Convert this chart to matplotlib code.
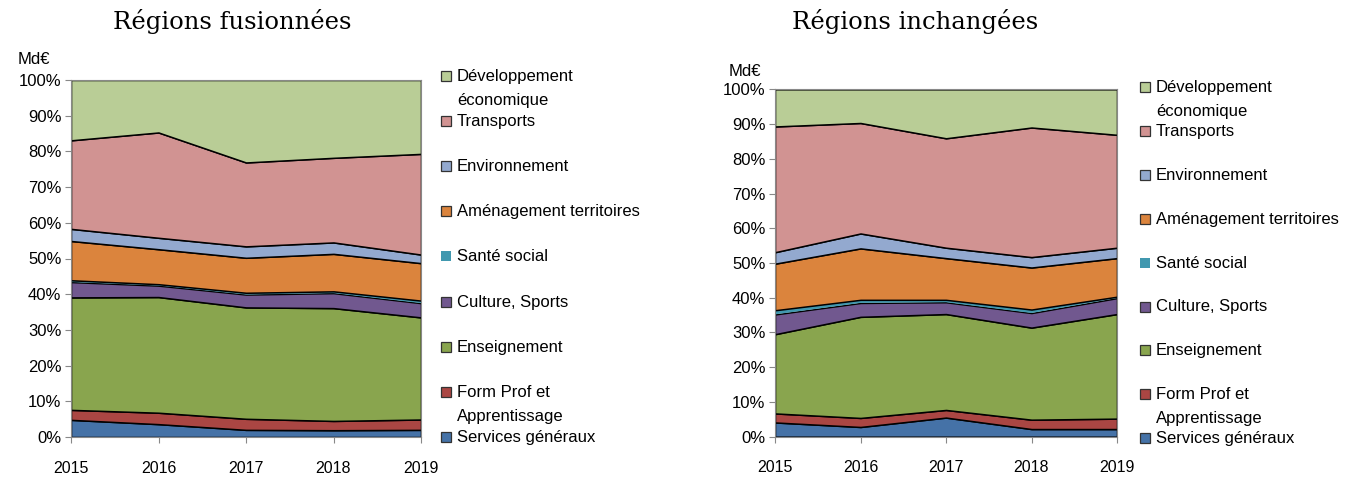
import matplotlib
matplotlib.use("Agg")
import matplotlib.pyplot as plt
from matplotlib.patches import Rectangle

plt.rcParams['font.family'] = ['Liberation Sans', 'DejaVu Sans']

years = [2015, 2016, 2017, 2018, 2019]

# categories, bottom to top of the stack
categories = ['Services généraux', 'Form Prof et\nApprentissage', 'Enseignement',
              'Culture, Sports', 'Santé social', 'Aménagement territoires',
              'Environnement', 'Transports', 'Développement\néconomique']
colors = ['#4572A7', '#AA4643', '#89A54E', '#71588F', '#4198AF',
          '#DB843D', '#93A9CF', '#D19392', '#B9CD96']

# shares (%) - Régions fusionnées
fus_services = [4.8, 3.6, 2.0, 1.9, 2.0]
fus_formprof = [2.8, 3.2, 3.1, 2.6, 2.9]
fus_enseign = [31.5, 32.4, 31.2, 31.6, 28.6]
fus_culture = [4.3, 3.2, 3.6, 4.2, 4.0]
fus_sante = [0.5, 0.4, 0.5, 0.5, 0.7]
fus_amenag = [11.0, 9.8, 9.8, 10.5, 10.5]
fus_environ = [3.4, 3.2, 3.2, 3.2, 2.4]
fus_transp = [24.8, 29.5, 23.5, 23.7, 28.2]
fus_dev = [16.9, 14.7, 23.1, 21.8, 20.7]

# Régions inchangées
inc_services = [4.1, 2.8, 5.5, 2.2, 2.2]
inc_formprof = [2.6, 2.6, 2.2, 2.7, 3.0]
inc_enseign = [22.8, 29.1, 27.6, 26.5, 30.1]
inc_culture = [5.7, 4.0, 3.4, 4.2, 4.6]
inc_sante = [1.2, 0.9, 0.7, 1.0, 0.4]
inc_amenag = [13.4, 14.8, 12.0, 12.1, 11.1]
inc_environ = [3.3, 4.3, 3.0, 3.0, 3.0]
inc_transp = [36.2, 31.8, 31.5, 37.3, 32.5]
inc_dev = [10.7, 9.7, 14.1, 11.0, 13.1]

fus = [fus_services, fus_formprof, fus_enseign, fus_culture, fus_sante,
       fus_amenag, fus_environ, fus_transp, fus_dev]
inc = [inc_services, inc_formprof, inc_enseign, inc_culture, inc_sante,
       inc_amenag, inc_environ, inc_transp, inc_dev]

fig = plt.figure(figsize=(13.56, 4.78), dpi=100)
W, H = 1356, 478


def draw_panel(rect, series, title, title_x, md_xy, leg_x, leg_top, leg_step):
    ax = fig.add_axes(rect)
    polys = ax.stackplot(years, *series, colors=colors, edgecolor='black', linewidth=1.1)
    polys[4].set_edgecolor('none')
    ax.set_xlim(2015, 2019)
    ax.set_ylim(0, 100)
    ax.set_yticks(range(0, 101, 10))
    ax.set_yticklabels([f'{v}%' for v in range(0, 101, 10)])
    ax.set_xticks(years)
    ax.tick_params(axis='y', labelsize=12, length=4, color='#888888', pad=3)
    ax.tick_params(axis='x', labelsize=11.5, length=4, color='#888888', pad=13)
    for s in ax.spines.values():
        s.set_color('#888888')
        s.set_linewidth(0.8)
    fig.text(title_x / W, 1 - 22 / H, title, family='DejaVu Serif', fontsize=17.5,
             ha='center', va='center')
    fig.text(md_xy[0] / W, 1 - md_xy[1] / H, 'Md€', fontsize=12, ha='center', va='center')
    # legend, top entry first
    for i, k in enumerate(range(len(categories) - 1, -1, -1)):
        yc = leg_top + i * leg_step
        ec = 'none' if k == 4 else '#333333'
        fig.patches.append(Rectangle(((leg_x - 5) / W, 1 - (yc + 5) / H), 10 / W, 10 / H,
                                     transform=fig.transFigure, facecolor=colors[k],
                                     edgecolor=ec, linewidth=0.9))
        fig.text((leg_x + 11) / W, 1 - (yc - 7) / H, categories[k], fontsize=12,
                 ha='left', va='top', linespacing=1.75)


draw_panel([71 / W, 41 / H, 350 / W, 357 / H], fus, 'Régions fusionnées', 232,
           (34, 60), 446, 76, 45.1)
draw_panel([775 / W, 41.3 / H, 342 / W, 347.4 / H], inc, 'Régions inchangées', 915,
           (745, 72), 1145, 87, 43.9)

fig.savefig('out.png', dpi=100)
